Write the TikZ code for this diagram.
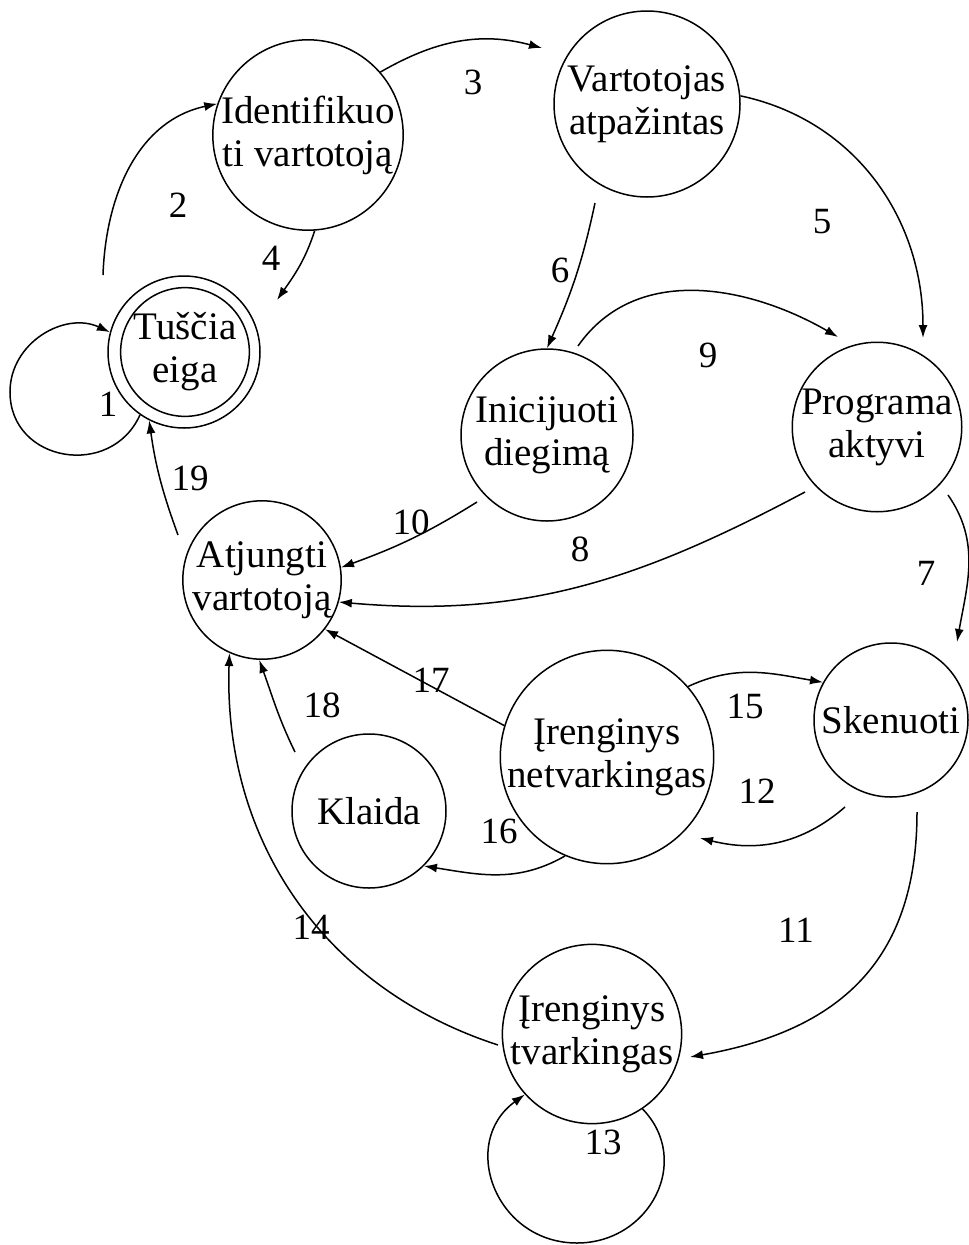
\documentclass[tikz,border=0pt]{standalone}
\usepackage{fontspec}
\setmainfont{Liberation Serif}
\usetikzlibrary{arrows.meta}
\begin{document}
\begin{tikzpicture}[x=1pt,y=1pt,
  line width=1.5pt,
  state/.style={circle,draw,inner sep=0pt,align=center,
    font=\fontsize{39}{43}\selectfont},
  num/.style={inner sep=0pt,font=\fontsize{37}{43}\selectfont},
  tr/.style={-{Latex[length=13pt,width=9pt]}},
]
\useasboundingbox (0,0) rectangle (969,-1245);

% states
\node[state,minimum size=152pt] (T) at (184,-352) {};
\node[state,minimum size=126pt] (Tin) at (185,-352) {Tuščia\\eiga};
\node[state,minimum size=186pt] (I) at (308,-135) {Identifikuo\\ti vartotoją};
\node[state,minimum size=186pt] (V) at (647,-104) {Vartotojas\\atpažintas};
\node[state,minimum size=172pt] (D) at (547,-435) {Inicijuoti\\diegimą};
\node[state,minimum size=156pt] (P) at (877,-427) {Programa\\aktyvi};
\node[state,minimum size=156pt] (A) at (262,-580) {Atjungti\\vartotoją};
\node[state,minimum size=154pt] (S) at (891,-720) {Skenuoti};
\node[state,minimum size=200pt] (N) at (607,-757) {Įrenginys\\netvarkingas};
\node[state,minimum size=154pt] (K) at (369,-811) {Klaida};
\node[state,minimum size=170pt] (G) at (592,-1034) {Įrenginys\\tvarkingas};

% free ends and loop turning points
\coordinate (c1) at (10,-392);
\coordinate (s2) at (103,-275);
\coordinate (e3) at (542,-48);
\coordinate (e4) at (277,-300);
\coordinate (e5) at (923,-338);
\coordinate (s6) at (595,-203);
\coordinate (s7) at (948,-495);
\coordinate (e7) at (957,-642);
\coordinate (s8) at (805,-492);
\coordinate (s9) at (578,-346);
\coordinate (e9) at (838,-337);
\coordinate (s10) at (477,-502);
\coordinate (s11) at (917,-812);
\coordinate (e11) at (690,-1057);
\coordinate (s12) at (845,-807);
\coordinate (e12) at (700,-838);
\coordinate (c13) at (577,-1243);
\coordinate (s14) at (498,-1045);
\coordinate (s18) at (295,-752);
\coordinate (s19) at (178,-535);

% transitions
\draw[tr] (T.235) to[out=246,in=270,looseness=1.37] (c1)
          to[out=90,in=155,looseness=1.09] (T.165);
\draw[tr] (s2) to[out=88,in=192] (I.161);
\draw[tr] (I.41) to[out=30,in=165] (e3);
\draw[tr] (I.274) to[out=252,in=55] (e4);
\draw[tr] (V.5) to[out=-12,in=90] (e5);
\draw[tr] (s6) to[out=-102,in=66] (D.90);
\draw[tr] (s7) to[out=-55,in=80] (e7);
\draw[tr] (s8) to[out=208,in=-5] (A.-16);
\draw[tr] (s9) to[out=55,in=150] (e9);
\draw[tr] (s10) to[out=212,in=20] (A.9);
\draw[tr] (s11) to[out=-90,in=10,looseness=1.15] (e11);
\draw[tr] (s12) to[out=221,in=346] (e12);
\draw[tr] (G.-56) to[out=-46,in=0,looseness=1.24] (c13)
          to[out=180,in=216,looseness=1.33] (G.222);
\draw[tr] (s14) to[out=162,in=268] (A.246);
\draw[tr] (N.41) to[out=25,in=170] (S.151);
\draw[tr] (N.247) to[out=210,in=351] (K.-45);
\draw[tr] (N.163) -- (A.-38);
\draw[tr] (s18) to[out=116,in=290] (A.268);
\draw[tr] (s19) to[out=110,in=278] (T.243);

% transition numbers
\node[num] (n1) at (108,-404) {1};
\node[num] (n2) at (178,-205) {2};
\node[num] (n3) at (473,-82) {3};
\node[num] (n4) at (271,-258) {4};
\node[num] (n5) at (822,-222) {5};
\node[num] (n6) at (560,-270) {6};
\node[num] (n7) at (926,-573) {7};
\node[num] (n8) at (580,-549) {8};
\node[num] (n9) at (708,-355) {9};
\node[num] (n10) at (411,-522) {10};
\node[num] (n11) at (796,-930) {11};
\node[num] (n12) at (757,-791) {12};
\node[num] (n13) at (603,-1142) {13};
\node[num] (n14) at (311,-927) {14};
\node[num] (n15) at (745,-706) {15};
\node[num] (n16) at (499,-831) {16};
\node[num] (n17) at (431,-680) {17};
\node[num] (n18) at (322,-705) {18};
\node[num] (n19) at (190,-478) {19};
\end{tikzpicture}
\end{document}
